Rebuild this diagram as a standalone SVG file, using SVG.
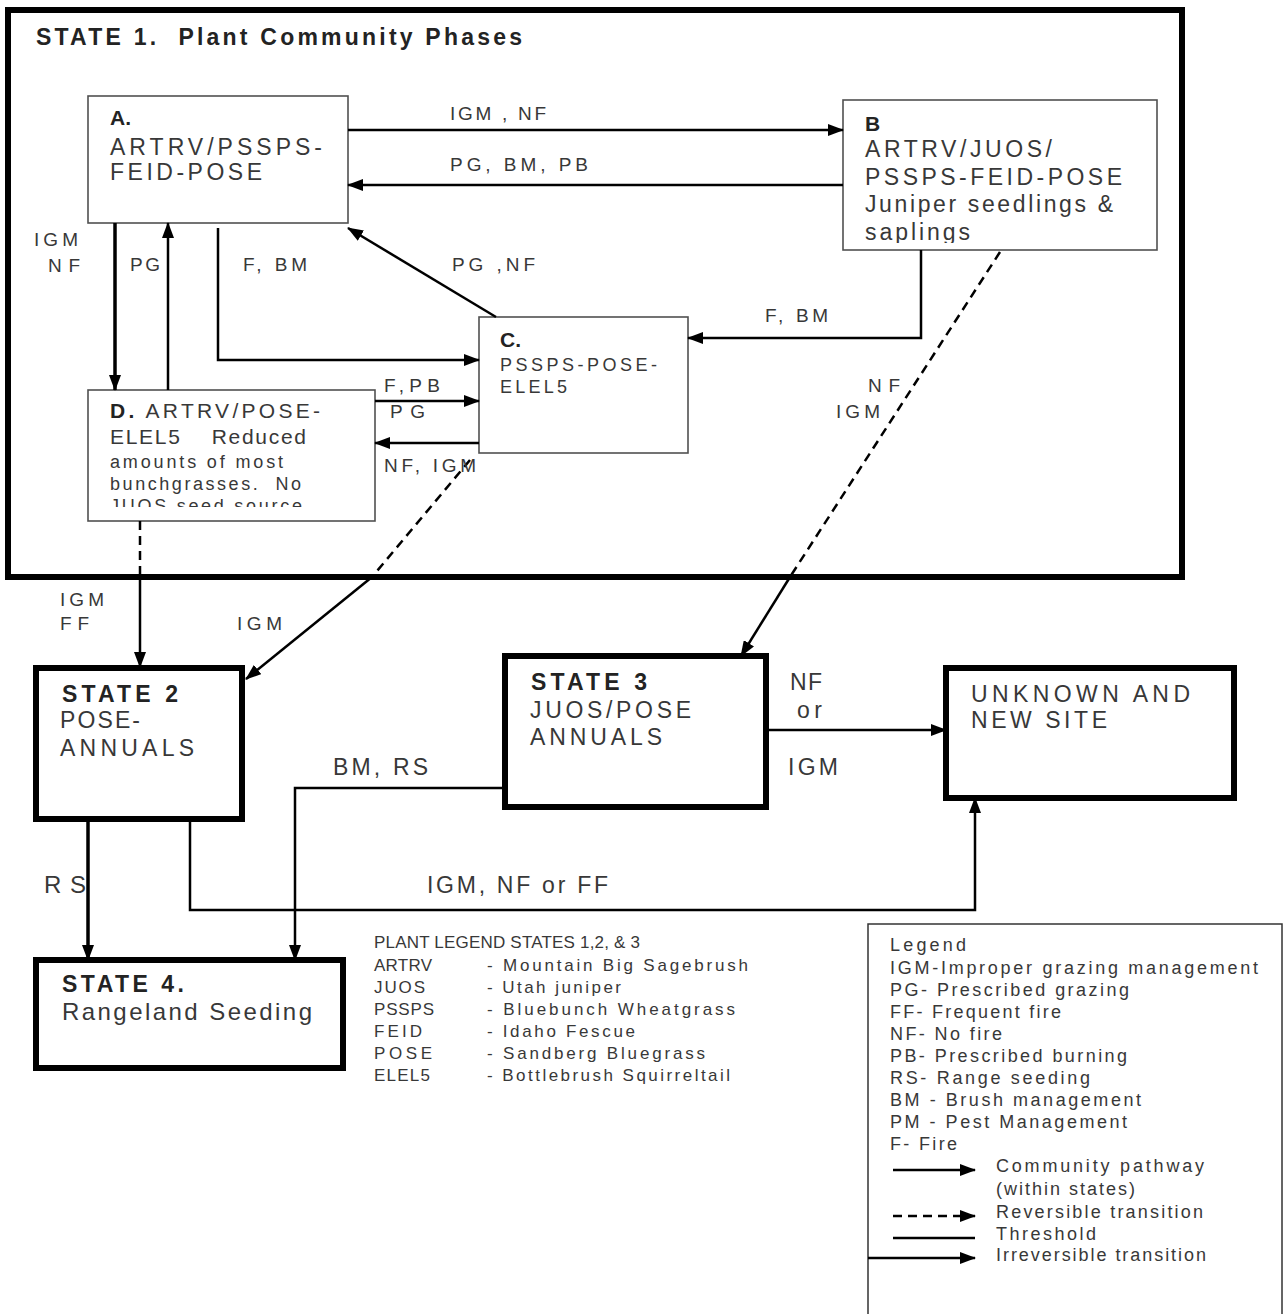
<svg xmlns="http://www.w3.org/2000/svg" width="1285" height="1314" viewBox="0 0 1285 1314">
<style>
text{font-family:"Liberation Sans",Arial,sans-serif;fill:#383838;white-space:pre}
.b{font-weight:bold;fill:#232323}
.t24{font-size:24px}
.t23{font-size:23px}
.t21{font-size:21px}
.t19{font-size:19px}
.t18{font-size:18px}
.t17{font-size:17px}
.box{fill:#fff;stroke:#505050;stroke-width:1.6}
.state{fill:#fff;stroke:#000;stroke-width:6}
.c{fill:none;stroke:#000;stroke-width:2.5}
.thick{stroke-width:3.5}
.dash{stroke-dasharray:9,6}
</style>
<defs>
<marker id="ah" markerUnits="userSpaceOnUse" markerWidth="16" markerHeight="12" refX="15" refY="6" orient="auto"><path d="M0,0 L16,6 L0,12 Z" fill="#000"/></marker>
<clipPath id="clipB"><rect x="843" y="100" width="314" height="143"/></clipPath>
<clipPath id="clipD"><rect x="88" y="390" width="287" height="117"/></clipPath>
</defs>
<rect width="1285" height="1314" fill="#fff"/>

<g id="state1">
<rect x="8" y="10" width="1174" height="567" fill="none" stroke="#000" stroke-width="6"/>
<text class="b t23" x="36" y="45" textLength="486" lengthAdjust="spacing">STATE 1.  Plant Community Phases</text>
</g>

<g id="nodeA">
<rect class="box" x="88" y="96" width="260" height="127"/>
<text class="b t21" x="110" y="125">A.</text>
<text class="t23" x="110" y="155" textLength="212" lengthAdjust="spacing">ARTRV/PSSPS-</text>
<text class="t23" x="110" y="180" textLength="152" lengthAdjust="spacing">FEID-POSE</text>
</g>

<g id="nodeB">
<rect class="box" x="843" y="100" width="314" height="150"/>
<g clip-path="url(#clipB)">
<text class="b t21" x="865" y="131">B</text>
<text class="t23" x="865" y="157" textLength="187" lengthAdjust="spacing">ARTRV/JUOS/</text>
<text class="t23" x="865" y="185" textLength="257" lengthAdjust="spacing">PSSPS-FEID-POSE</text>
<text class="t23" x="865" y="212" textLength="248" lengthAdjust="spacing">Juniper seedlings &amp;</text>
<text class="t23" x="865" y="240" textLength="105" lengthAdjust="spacing">saplings</text>
</g>
</g>

<g id="nodeC">
<rect class="box" x="479" y="317" width="209" height="136"/>
<text class="b t21" x="500" y="347">C.</text>
<text class="t18" x="500" y="371" textLength="157" lengthAdjust="spacing">PSSPS-POSE-</text>
<text class="t18" x="500" y="393" textLength="67" lengthAdjust="spacing">ELEL5</text>
</g>

<g id="nodeD">
<rect class="box" x="88" y="390" width="287" height="131"/>
<g clip-path="url(#clipD)">
<text class="t21" x="110" y="418" textLength="210" lengthAdjust="spacing"><tspan class="b">D.</tspan> ARTRV/POSE-</text>
<text class="t21" x="110" y="444" textLength="196" lengthAdjust="spacing">ELEL5    Reduced</text>
<text class="t18" x="110" y="468" textLength="173" lengthAdjust="spacing">amounts of most</text>
<text class="t18" x="110" y="490" textLength="191" lengthAdjust="spacing">bunchgrasses.  No</text>
<text class="t18" x="110" y="512" textLength="192" lengthAdjust="spacing">JUOS seed source</text>
</g>
</g>

<g id="state2">
<rect class="state" x="36" y="668" width="206" height="151"/>
<text class="b t23" x="62" y="702" textLength="116" lengthAdjust="spacing">STATE 2</text>
<text class="t23" x="60" y="728" textLength="80" lengthAdjust="spacing">POSE-</text>
<text class="t23" x="60" y="756" textLength="134" lengthAdjust="spacing">ANNUALS</text>
</g>

<g id="state3">
<rect class="state" x="505" y="656" width="261" height="151"/>
<text class="b t23" x="531" y="690" textLength="116" lengthAdjust="spacing">STATE 3</text>
<text class="t23" x="530" y="718" textLength="161" lengthAdjust="spacing">JUOS/POSE</text>
<text class="t23" x="530" y="745" textLength="132" lengthAdjust="spacing">ANNUALS</text>
</g>

<g id="unknown">
<rect class="state" x="946" y="668" width="288" height="130"/>
<text class="t23" x="971" y="702" textLength="219" lengthAdjust="spacing">UNKNOWN AND</text>
<text class="t23" x="971" y="728" textLength="136" lengthAdjust="spacing">NEW SITE</text>
</g>

<g id="state4">
<rect class="state" x="36" y="960" width="307" height="108"/>
<text class="b t23" x="62" y="992" textLength="122" lengthAdjust="spacing">STATE 4.</text>
<text class="t24" x="62" y="1020" textLength="250" lengthAdjust="spacing">Rangeland Seeding</text>
</g>

<g id="connectors">
<path class="c" d="M348,130 H843" marker-end="url(#ah)"/>
<path class="c" d="M843,185 H348" marker-end="url(#ah)"/>
<path class="c thick" d="M115,223 V390" marker-end="url(#ah)"/>
<path class="c" d="M168,390 V223" marker-end="url(#ah)"/>
<path class="c" d="M218,228 V360 H479" marker-end="url(#ah)"/>
<path class="c" d="M496,317 L348,228" marker-end="url(#ah)"/>
<path class="c" d="M921,250 V338 H688" marker-end="url(#ah)"/>
<path class="c" d="M375,401 H479" marker-end="url(#ah)"/>
<path class="c" d="M479,443 H375" marker-end="url(#ah)"/>
<path class="c dash" d="M1000,252 L790,577"/>
<path class="c" d="M790,577 L741,656" marker-end="url(#ah)"/>
<path class="c dash" d="M470,460 L372,577"/>
<path class="c" d="M372,577 L246,679" marker-end="url(#ah)"/>
<path class="c dash" d="M140,521 V577"/>
<path class="c" d="M140,577 V667" marker-end="url(#ah)"/>
<path class="c" d="M766,730 H946" marker-end="url(#ah)"/>
<path class="c thick" d="M88,820 V960" marker-end="url(#ah)"/>
<path class="c" d="M190,820 V910 H975 V798" marker-end="url(#ah)"/>
<path class="c" d="M504,788 H295 V960" marker-end="url(#ah)"/>

<text class="t19" x="450" y="120" textLength="96" lengthAdjust="spacing">IGM , NF</text>
<text class="t19" x="450" y="171" textLength="138" lengthAdjust="spacing">PG, BM, PB</text>
<text class="t19" x="34" y="246" textLength="44" lengthAdjust="spacing">IGM</text>
<text class="t19" x="48" y="272" textLength="32" lengthAdjust="spacing">NF</text>
<text class="t19" x="130" y="271" textLength="30" lengthAdjust="spacing">PG</text>
<text class="t19" x="243" y="271" textLength="64" lengthAdjust="spacing">F, BM</text>
<text class="t19" x="452" y="271" textLength="83" lengthAdjust="spacing">PG ,NF</text>
<text class="t19" x="765" y="322" textLength="63" lengthAdjust="spacing">F, BM</text>
<text class="t19" x="868" y="392" textLength="32" lengthAdjust="spacing">NF</text>
<text class="t19" x="836" y="418" textLength="44" lengthAdjust="spacing">IGM</text>
<text class="t19" x="384" y="392" textLength="56" lengthAdjust="spacing">F,PB</text>
<text class="t19" x="390" y="418" textLength="35" lengthAdjust="spacing">PG</text>
<text class="t19" x="384" y="472" textLength="92" lengthAdjust="spacing">NF, IGM</text>
<text class="t19" x="60" y="606" textLength="44" lengthAdjust="spacing">IGM</text>
<text class="t19" x="60" y="630" textLength="29" lengthAdjust="spacing">FF</text>
<text class="t19" x="237" y="630" textLength="45" lengthAdjust="spacing">IGM</text>
<text class="t23" x="790" y="690" textLength="32" lengthAdjust="spacing">NF</text>
<text class="t23" x="797" y="718" textLength="25" lengthAdjust="spacing">or</text>
<text class="t23" x="788" y="775" textLength="50" lengthAdjust="spacing">IGM</text>
<text class="t23" x="333" y="775" textLength="95" lengthAdjust="spacing">BM, RS</text>
<text class="t24" x="44" y="893" textLength="42" lengthAdjust="spacing">RS</text>
<text class="t23" x="427" y="893" textLength="181" lengthAdjust="spacing">IGM, NF or FF</text>
</g>

<g id="plantLegend">
<text class="t17" x="374" y="948" textLength="266" lengthAdjust="spacing">PLANT LEGEND STATES 1,2, &amp; 3</text>
<text class="t17" x="374" y="971" textLength="58" lengthAdjust="spacing">ARTRV</text>
<text class="t17" x="374" y="993" textLength="51" lengthAdjust="spacing">JUOS</text>
<text class="t17" x="374" y="1015" textLength="60" lengthAdjust="spacing">PSSPS</text>
<text class="t17" x="374" y="1037" textLength="48" lengthAdjust="spacing">FEID</text>
<text class="t17" x="374" y="1059" textLength="58" lengthAdjust="spacing">POSE</text>
<text class="t17" x="374" y="1081" textLength="56" lengthAdjust="spacing">ELEL5</text>
<text class="t17" x="487" y="971" textLength="261" lengthAdjust="spacing">- Mountain Big Sagebrush</text>
<text class="t17" x="487" y="993" textLength="134" lengthAdjust="spacing">- Utah juniper</text>
<text class="t17" x="487" y="1015" textLength="248" lengthAdjust="spacing">- Bluebunch Wheatgrass</text>
<text class="t17" x="487" y="1037" textLength="148" lengthAdjust="spacing">- Idaho Fescue</text>
<text class="t17" x="487" y="1059" textLength="218" lengthAdjust="spacing">- Sandberg Bluegrass</text>
<text class="t17" x="487" y="1081" textLength="243" lengthAdjust="spacing">- Bottlebrush Squirreltail</text>
</g>

<g id="legend">
<rect x="868" y="924" width="414" height="400" fill="none" stroke="#333" stroke-width="1.5"/>
<text class="t18" x="890" y="951" textLength="76" lengthAdjust="spacing">Legend</text>
<text class="t18" x="890" y="974" textLength="368" lengthAdjust="spacing">IGM-Improper grazing management</text>
<text class="t18" x="890" y="996" textLength="239" lengthAdjust="spacing">PG- Prescribed grazing</text>
<text class="t18" x="890" y="1018" textLength="171" lengthAdjust="spacing">FF- Frequent fire</text>
<text class="t18" x="890" y="1040" textLength="112" lengthAdjust="spacing">NF- No fire</text>
<text class="t18" x="890" y="1062" textLength="237" lengthAdjust="spacing">PB- Prescribed burning</text>
<text class="t18" x="890" y="1084" textLength="200" lengthAdjust="spacing">RS- Range seeding</text>
<text class="t18" x="890" y="1106" textLength="251" lengthAdjust="spacing">BM - Brush management</text>
<text class="t18" x="890" y="1128" textLength="237" lengthAdjust="spacing">PM - Pest Management</text>
<text class="t18" x="890" y="1150" textLength="67" lengthAdjust="spacing">F- Fire</text>
<path class="c" d="M893,1170 H975" marker-end="url(#ah)"/>
<text class="t18" x="996" y="1172" textLength="208" lengthAdjust="spacing">Community pathway</text>
<text class="t18" x="996" y="1195" textLength="139" lengthAdjust="spacing">(within states)</text>
<path class="c dash" d="M893,1216 H975" marker-end="url(#ah)"/>
<text class="t18" x="996" y="1218" textLength="207" lengthAdjust="spacing">Reversible transition</text>
<path class="c" d="M893,1238 H975" stroke-width="4"/>
<text class="t18" x="996" y="1240" textLength="100" lengthAdjust="spacing">Threshold</text>
<path class="c" d="M868,1258 H975" marker-end="url(#ah)"/>
<text class="t18" x="996" y="1261" textLength="210" lengthAdjust="spacing">Irreversible transition</text>
</g>
</svg>
